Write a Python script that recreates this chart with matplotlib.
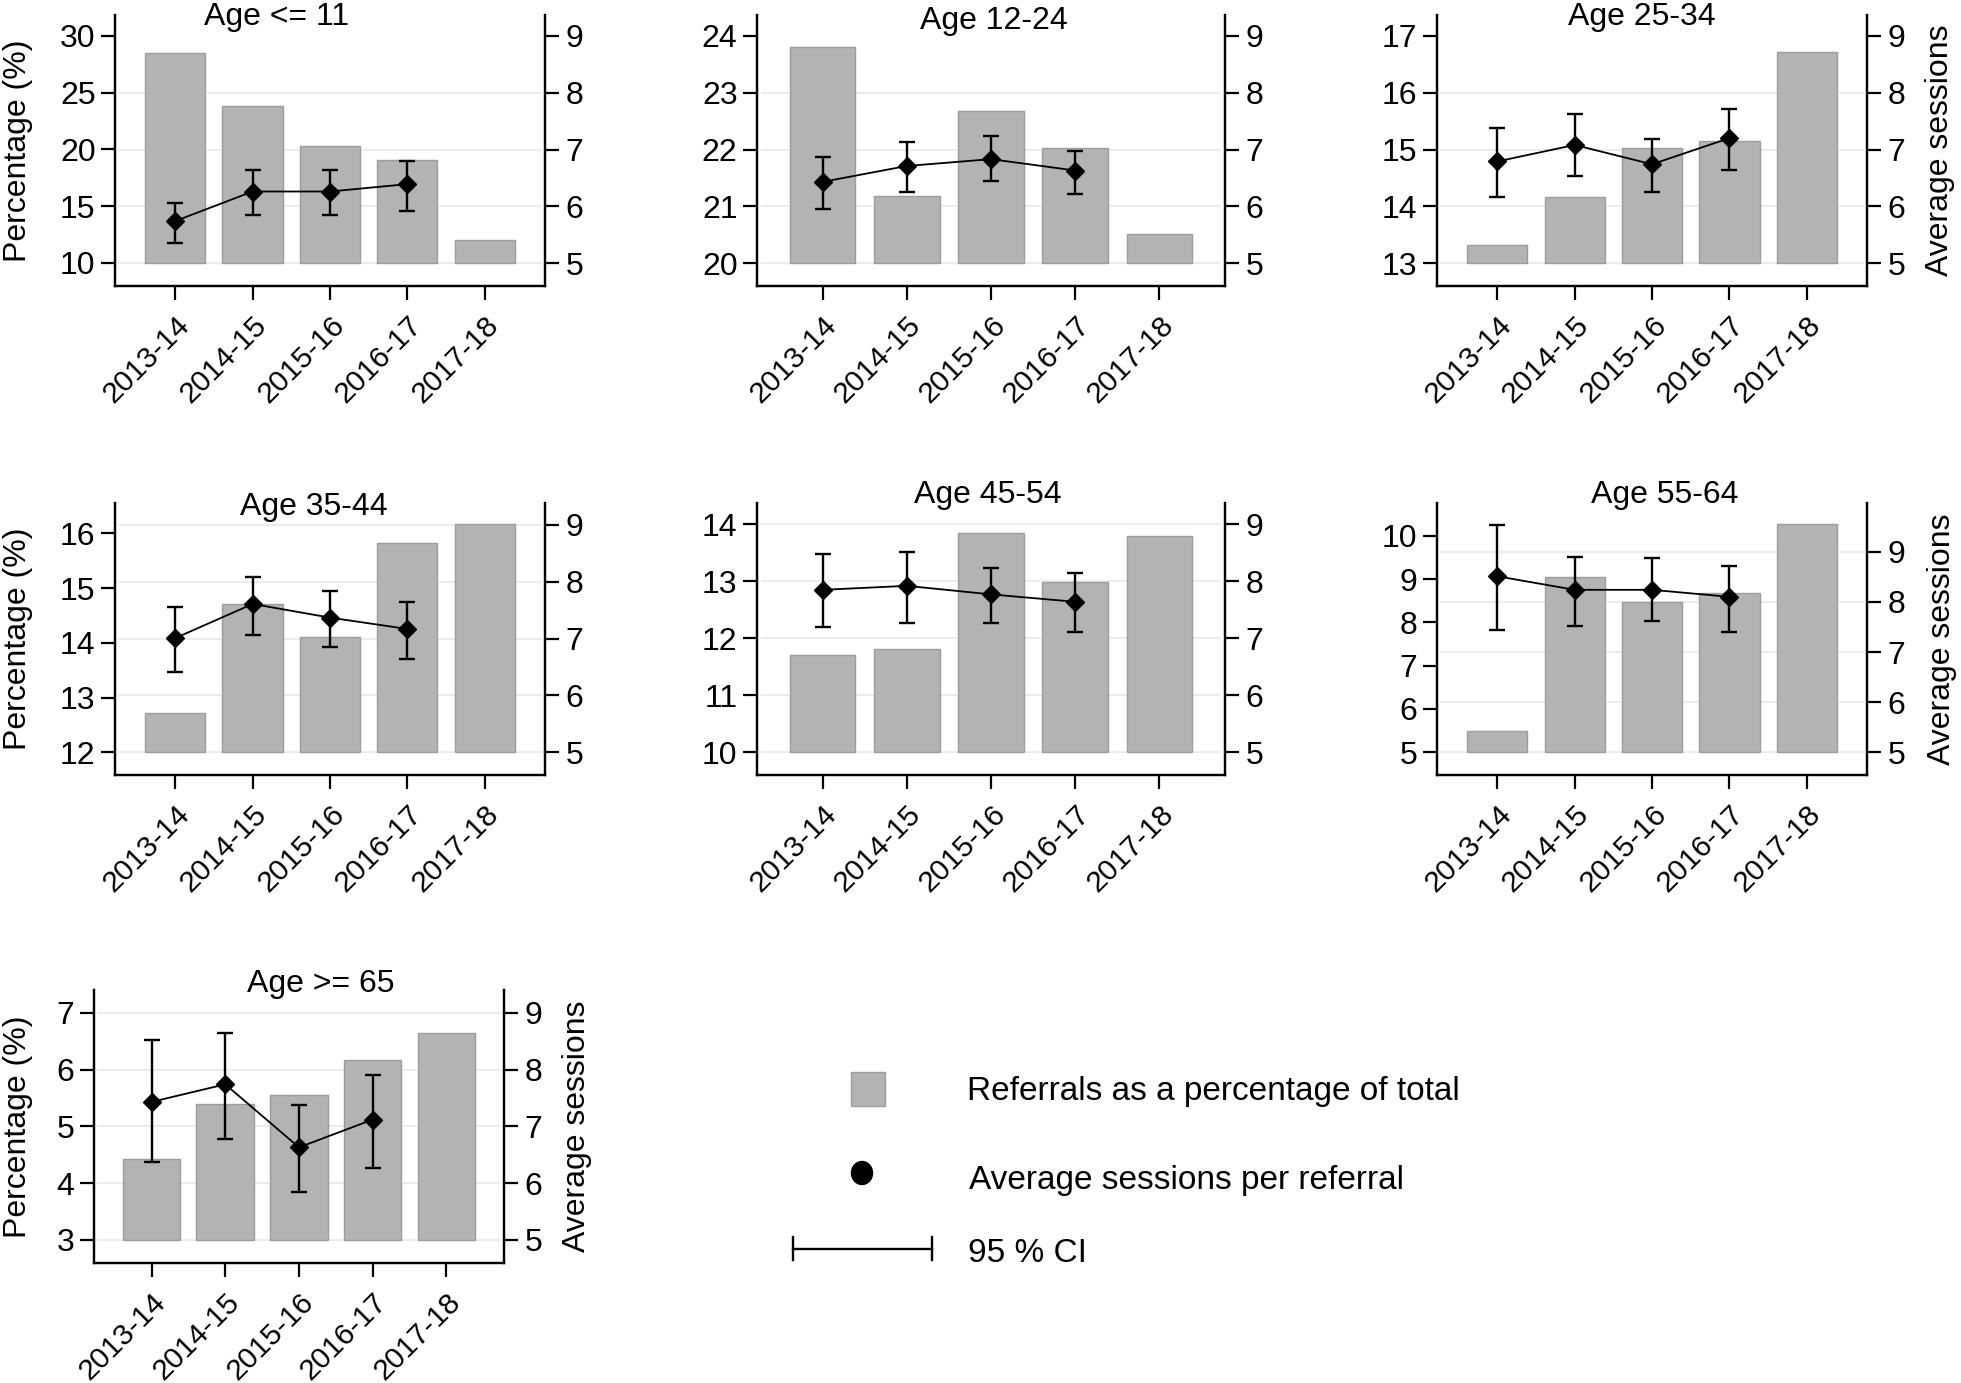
import matplotlib
matplotlib.use('Agg')
from matplotlib import pyplot as plt
from matplotlib.patches import Rectangle, Ellipse
from matplotlib.transforms import blended_transform_factory

plt.rcParams['font.family'] = ['Liberation Sans', 'DejaVu Sans']
FS = 23
FS_X = 21.5

# Data ####
years = ['2013-14', '2014-15', '2015-16', '2016-17', '2017-18']
groups = ['Age <= 11', 'Age 12-24', 'Age 25-34', 'Age 35-44', 'Age 45-54', 'Age 55-64', 'Age >= 65']

# referrals as % of total (bars)
pct_le11 = [28.5, 23.8, 20.3, 19.1, 12.0]
pct_12_24 = [23.81, 21.18, 22.68, 22.03, 20.52]
pct_25_34 = [13.32, 14.17, 15.03, 15.15, 16.72]
pct_35_44 = [12.72, 14.71, 14.11, 15.83, 16.17]
pct_45_54 = [11.71, 11.82, 13.84, 12.99, 13.80]
pct_55_64 = [5.49, 9.05, 8.46, 8.68, 10.27]
pct_ge65 = [4.42, 5.39, 5.55, 6.17, 6.64]

# average sessions per referral (2013-14 .. 2016-17) with 95% CI
ses_le11 = [5.74, 6.26, 6.26, 6.39]
lo_le11 = [5.36, 5.85, 5.85, 5.92]
hi_le11 = [6.05, 6.64, 6.64, 6.80]
ses_12_24 = [6.43, 6.71, 6.83, 6.63]
lo_12_24 = [5.96, 6.25, 6.44, 6.21]
hi_12_24 = [6.86, 7.14, 7.23, 6.98]
ses_25_34 = [6.79, 7.08, 6.74, 7.20]
lo_25_34 = [6.17, 6.54, 6.25, 6.64]
hi_25_34 = [7.38, 7.63, 7.18, 7.71]
ses_35_44 = [7.01, 7.61, 7.37, 7.17]
lo_35_44 = [6.42, 7.06, 6.86, 6.65]
hi_35_44 = [7.56, 8.09, 7.84, 7.64]
ses_45_54 = [7.85, 7.92, 7.77, 7.64]
lo_45_54 = [7.19, 7.27, 7.27, 7.11]
hi_45_54 = [8.48, 8.52, 8.24, 8.15]
ses_55_64 = [8.51, 8.24, 8.24, 8.10]
lo_55_64 = [7.44, 7.52, 7.62, 7.39]
hi_55_64 = [9.54, 8.90, 8.87, 8.72]
ses_ge65 = [7.43, 7.74, 6.63, 7.12]
lo_ge65 = [6.38, 6.77, 5.84, 6.27]
hi_ge65 = [8.52, 8.64, 7.38, 7.90]

# left axis ticks per panel (bars start at the first tick)
lticks = [[10, 15, 20, 25, 30], [20, 21, 22, 23, 24], [13, 14, 15, 16, 17],
          [12, 13, 14, 15, 16], [10, 11, 12, 13, 14], [5, 6, 7, 8, 9, 10], [3, 4, 5, 6, 7]]
rticks = [5, 6, 7, 8, 9]

pcts = [pct_le11, pct_12_24, pct_25_34, pct_35_44, pct_45_54, pct_55_64, pct_ge65]
sess = [ses_le11, ses_12_24, ses_25_34, ses_35_44, ses_45_54, ses_55_64, ses_ge65]
los = [lo_le11, lo_12_24, lo_25_34, lo_35_44, lo_45_54, lo_55_64, lo_ge65]
his = [hi_le11, hi_12_24, hi_25_34, hi_35_44, hi_45_54, hi_55_64, hi_ge65]

# Layout (pixels) ####
W, H = 1961, 1383
# axes box: x0, x1, ytop, ybottom
boxes = [(115, 545, 15, 286), (757, 1225, 15, 286), (1437, 1867, 15, 286),
         (115, 545, 503, 775), (757, 1225, 503, 775), (1437, 1867, 503, 775),
         (94, 504, 990, 1263)]
left_lims = [(7.97, 31.85), (19.595, 24.37), (12.595, 17.37), (11.585, 16.553),
             (9.60, 14.374), (4.475, 10.755), (2.595, 7.40)]
right_lims = [(4.595, 9.37), (4.595, 9.37), (4.595, 9.37), (4.60, 9.387),
              (4.60, 9.374), (4.55, 9.97), (4.595, 9.40)]
# top row has no gridline at the top tick
grid_top = [False, False, False, True, True, True, True]
title_pos = [(277, 25), (994, 29), (1642, 25), (314, 515), (988, 503), (1665, 503), (321, 992)]
left_label_x = {0: 18, 3: 18, 6: 18}
right_label_x = {2: 1940, 5: 1942, 6: 577}

bar_col = '#b3b3b3'
bar_edge = '#9c9c9c'
grid_col = '#ececec'

fig = plt.figure(figsize=(W / 100, H / 100), dpi=100)

for i in range(len(groups)):
    x0, x1, yt, yb = boxes[i]
    ax = fig.add_axes([x0 / W, 1 - yb / H, (x1 - x0) / W, (yb - yt) / H])
    ax2 = ax.twinx()
    ax.set_xlim(-0.78, 4.78)
    ax.set_ylim(*left_lims[i])
    ax2.set_ylim(*right_lims[i])

    # gridlines follow the right-axis ticks, behind the bars
    trans = blended_transform_factory(ax.transAxes, ax2.transData)
    glines = rticks if grid_top[i] else rticks[:-1]
    for r in glines:
        ax.plot([0.01, 0.99], [r, r], color=grid_col, lw=1.5, transform=trans, zorder=0)

    base = lticks[i][0]
    xs = list(range(len(years)))
    ax.bar(xs, [v - base for v in pcts[i]], bottom=base, width=0.78,
           color=bar_col, edgecolor=bar_edge, linewidth=1, zorder=2)

    xe = xs[:len(sess[i])]
    yerr = [[s - l for s, l in zip(sess[i], los[i])], [h - s for s, h in zip(sess[i], his[i])]]
    ax2.errorbar(xe, sess[i], yerr=yerr, fmt='none', ecolor='black', elinewidth=1.7,
                 capsize=6, capthick=1.7)
    ax2.plot(xe, sess[i], color='black', lw=1.3, marker='D', markersize=9)

    ax.set_yticks(lticks[i])
    ax2.set_yticks(rticks)
    ax.set_xticks(xs)
    ax.set_xticklabels(years, rotation=45, ha='right', rotation_mode='anchor', fontsize=FS_X)

    for a in (ax, ax2):
        a.spines['top'].set_visible(False)
        for s in a.spines.values():
            s.set_linewidth(1.6)
        a.tick_params(axis='y', labelsize=FS, width=1.6, length=10, direction='out')
    ax.tick_params(axis='y', pad=4)
    ax2.tick_params(axis='y', pad=5)
    ax.tick_params(axis='x', width=1.6, length=10, pad=8)

    tx, ty = title_pos[i]
    fig.text(tx / W, 1 - ty / H, groups[i], ha='center', va='baseline', fontsize=FS)

    if i in left_label_x:
        ax.text((left_label_x[i] - x0) / (x1 - x0), 0.5, 'Percentage (%)', transform=ax.transAxes,
                rotation=90, ha='center', va='center', fontsize=FS)
    if i in right_label_x:
        ax.text((right_label_x[i] - x0) / (x1 - x0), 0.5, 'Average sessions', transform=ax.transAxes,
                rotation=90, ha='center', va='center', fontsize=FS)

# Legend (drawn in pixel coordinates) ####
leg = fig.add_axes([0, 0, 1, 1], zorder=-1)
leg.set_xlim(0, W)
leg.set_ylim(H, 0)
leg.axis('off')
leg.add_patch(Rectangle((851, 1072), 34, 34, facecolor=bar_col, edgecolor=bar_edge, lw=1))
leg.add_patch(Ellipse((862, 1173), 21, 23, facecolor='black', edgecolor='black'))
leg.plot([793, 932], [1249, 1249], color='black', lw=1.7)
leg.plot([793, 793], [1237, 1260], color='black', lw=1.7)
leg.plot([932, 932], [1237, 1260], color='black', lw=1.7)
leg.text(967, 1100, 'Referrals as a percentage of total', fontsize=FS + 1, va='baseline')
leg.text(969, 1189, 'Average sessions per referral', fontsize=FS + 1, va='baseline')
leg.text(968, 1262, '95 % CI', fontsize=FS + 1, va='baseline')

plt.savefig('out.png', dpi=100)
